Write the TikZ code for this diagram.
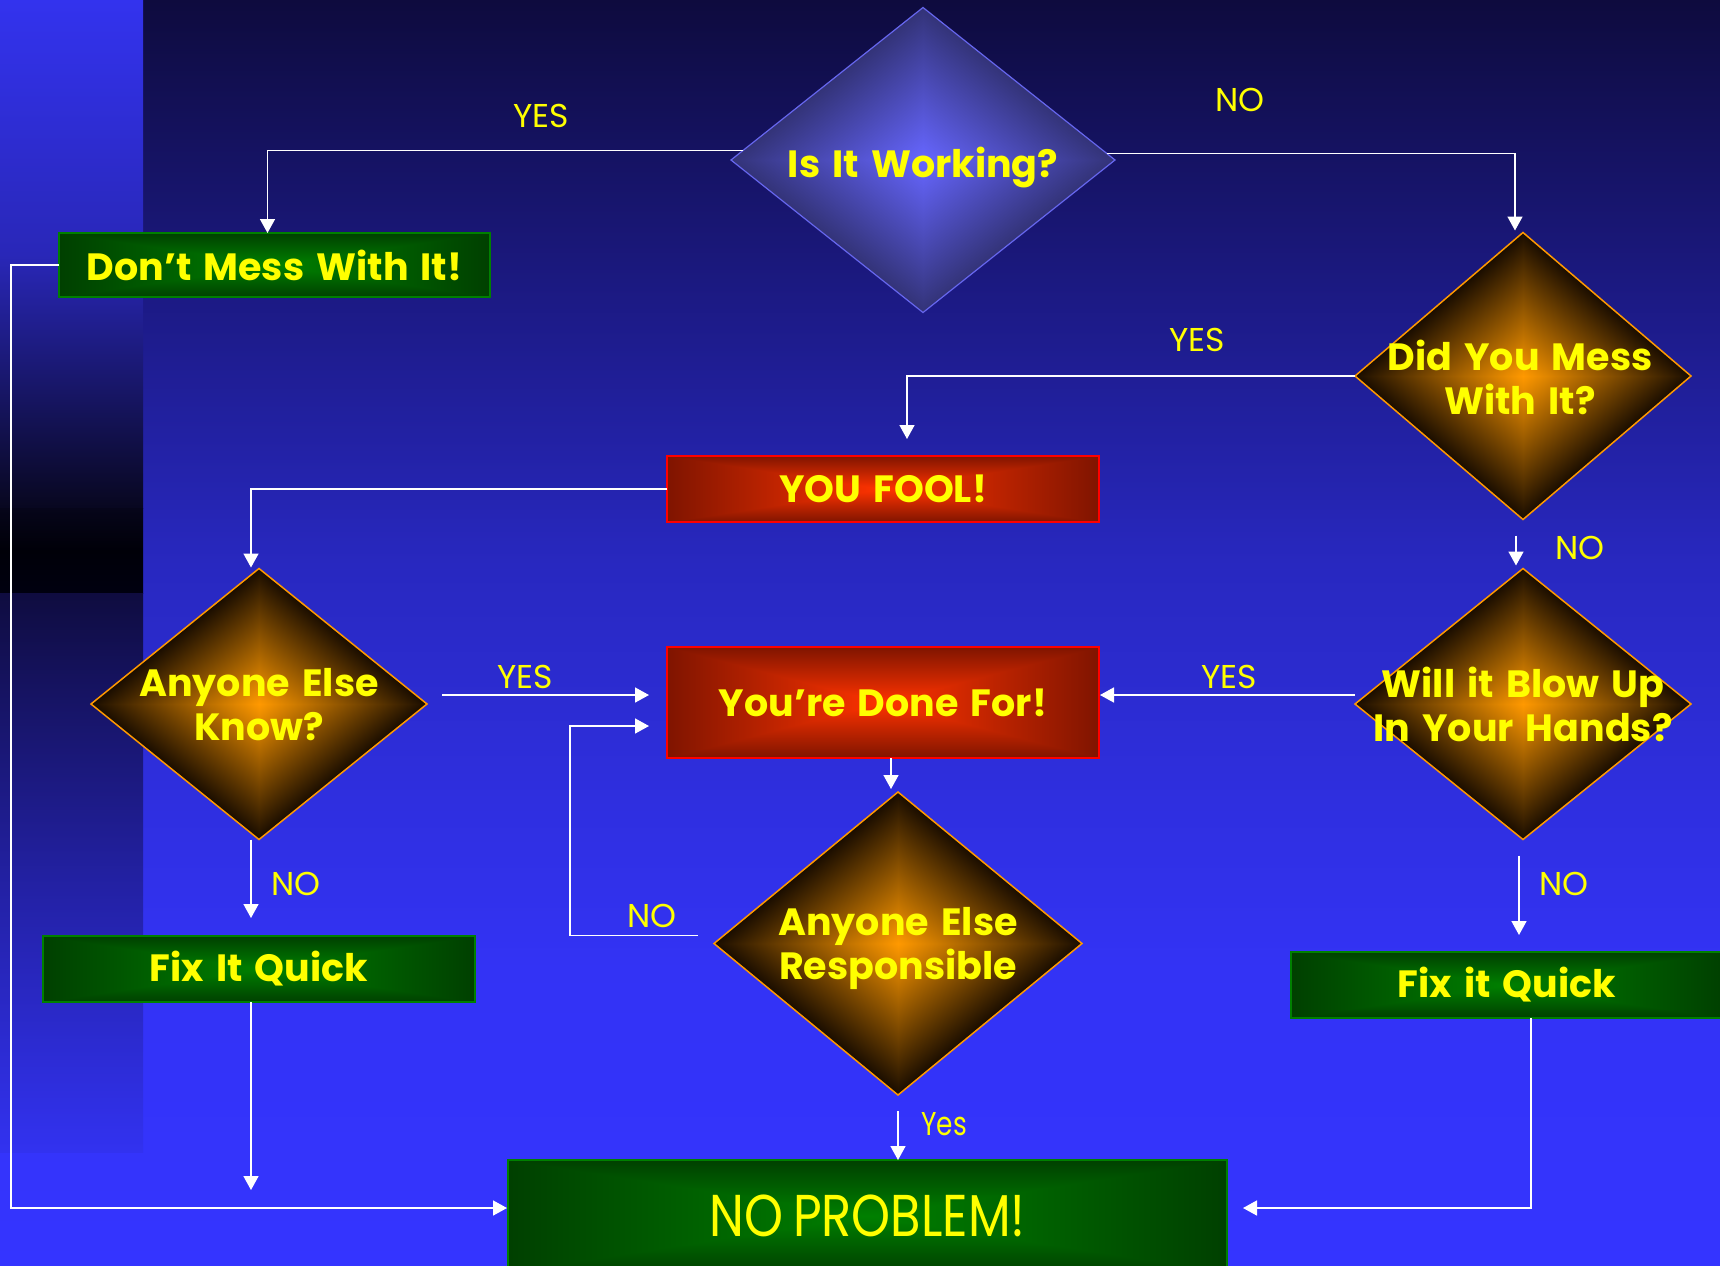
\documentclass[tikz,border=0pt]{standalone}
\usepackage{fontspec}
\setmainfont{Poppins}[WordSpace=1.5]
\usetikzlibrary{shapes.geometric,arrows.meta,calc}

% background colours
\definecolor{bgA}{HTML}{0E0B3E}
\definecolor{bgB}{HTML}{1D1B8A}
\definecolor{bgC}{HTML}{2828C0}
\definecolor{bgD}{HTML}{2F2FE0}
\definecolor{bgE}{HTML}{3333F5}
\definecolor{bgF}{HTML}{3434FF}
\definecolor{stripTop}{HTML}{3333EE}
\definecolor{stripMid}{HTML}{2927B8}
\definecolor{stripLow}{HTML}{08071F}
\definecolor{bandTop}{HTML}{06051A}
\definecolor{bandMid}{HTML}{000008}
\definecolor{bandLow}{HTML}{000010}
\definecolor{lowTop}{HTML}{0F0C40}
\definecolor{lowMid}{HTML}{2220A0}
\definecolor{lowEnd}{HTML}{3232F0}
% node colours
\definecolor{boxgreen}{HTML}{008000}
\definecolor{boxred}{HTML}{FF0000}
\definecolor{askorange}{HTML}{FF9900}
\definecolor{askblueline}{HTML}{6666EE}
\definecolor{labyellow}{HTML}{FFFF00}

% main backdrop: dark navy at the top, bright blue at the bottom
\pgfdeclareverticalshading{bgmain}{100bp}{color(0bp)=(bgF); color(25bp)=(bgF);
  color(36.74bp)=(bgE); color(43.10bp)=(bgD); color(52.67bp)=(bgC);
  color(62.23bp)=(bgB); color(75bp)=(bgA); color(100bp)=(bgA)}

% diamond path gradients (contours follow the diamond outline)
\pgfdeclarefunctionalshading{orangediamond}{\pgfpointorigin}{\pgfpoint{100bp}{100bp}}{}{
  50 sub abs 25 div exch 50 sub abs 25 div add
  dup 1 gt {pop 1} if
  dup dup
  -0.9 mul 1 add
  3 1 roll
  -0.55 mul 0.6 add
  exch
  0 mul
}
\pgfdeclarefunctionalshading{bluediamond}{\pgfpointorigin}{\pgfpoint{100bp}{100bp}}{}{
  50 sub abs 25 div exch 50 sub abs 25 div add
  dup 1 gt {pop 1} if
  dup dup
  -0.2 mul 0.4 add
  3 1 roll
  -0.2 mul 0.4 add
  exch
  -0.53 mul 1 add
}
% rectangle path gradients (contours follow the box outline)
\pgfdeclarefunctionalshading{greenbox}{\pgfpointorigin}{\pgfpoint{100bp}{100bp}}{}{
  50 sub abs 25 div exch 50 sub abs 25 div
  2 copy lt {exch} if pop
  dup 1 gt {pop 1} if
  dup dup
  0 mul
  3 1 roll
  -0.25 mul 0.5 add
  exch
  0 mul
}
\pgfdeclarefunctionalshading{redbox}{\pgfpointorigin}{\pgfpoint{100bp}{100bp}}{}{
  50 sub abs 25 div exch 50 sub abs 25 div
  2 copy lt {exch} if pop
  dup 1 gt {pop 1} if
  dup dup
  -0.5 mul 1 add
  3 1 roll
  -0.12 mul 0.2 add
  exch
  0 mul
}

\newcommand\boldlab{\bfseries\fontsize{19}{22}\selectfont}
\newcommand\anslab{\mdseries\fontsize{16.5}{20}\selectfont}

\tikzset{
  box/.style={rectangle, line width=1pt, inner sep=0pt, outer sep=0pt,
    text=labyellow, font=\boldlab},
  okbox/.style={box, draw=boxgreen, shading=greenbox},
  badbox/.style={box, draw=boxred, shading=redbox},
  ask/.style={diamond, draw=askorange, line width=0.75pt, inner sep=0pt,
    outer sep=0pt, shading=orangediamond},
  askblue/.style={ask, draw=askblueline, line width=0.6pt, shading=bluediamond},
  asktext/.style={text=labyellow, font=\boldlab, align=center, inner sep=0pt},
  ans/.style={text=labyellow, font=\anslab, inner sep=0pt},
  link/.style={draw=white, line width=0.8pt, -{Triangle[length=7pt,width=7.5pt]}},
}

\begin{document}
\begin{tikzpicture}[x=0.5pt, y=-0.5pt]
\useasboundingbox (0,0) rectangle (1720,1265);
\clip (0,0) rectangle (1720,1265);

% backdrop and the left band
\fill[shading=bgmain] (0,0) rectangle (1720,1265);
\fill[top color=stripTop, bottom color=stripLow, middle color=stripMid] (0,0) rectangle (143,508.5);
\fill[top color=bandTop, bottom color=bandLow, middle color=bandMid] (0,508) rectangle (143,593.5);
\fill[top color=lowTop, bottom color=lowEnd, middle color=lowMid] (0,593) rectangle (143,1152);

% decisions
\node[askblue, minimum width=192pt, minimum height=152.5pt] (iw) at (923,160) {};
\node[asktext] (iwT) at (923,167) {Is It Working?};

\node[ask, minimum width=168pt, minimum height=143.5pt] (dy) at (1523,376) {};
\node[asktext] (dyT) at (1520,377) {Did You Mess\\With It?};

\node[ask, minimum width=168pt, minimum height=135.5pt] (ak) at (259,704) {};
\node[asktext] (akT) at (259,705) {Anyone Else\\Know?};

\node[ask, minimum width=168pt, minimum height=135.5pt] (wb) at (1523,704) {};
\node[asktext] (wbT) at (1523,704) {Will it Blow Up\\In Your Hands?};

\node[ask, minimum width=184pt, minimum height=151.5pt] (ar) at (898,943.5) {};
\node[asktext] (arT) at (898,948) {Anyone Else\\Responsible};

% outcomes
\node[okbox, minimum width=215.5pt, minimum height=32pt] (dm) at (274.5,265) {Don't Mess With It!};
\node[badbox, minimum width=216pt, minimum height=33pt] (yf) at (883,489) {YOU FOOL!};
\node[badbox, minimum width=216pt, minimum height=55.5pt] (ydf) at (883,702.5) {You're Done For!};
\node[okbox, minimum width=216pt, minimum height=33pt] (fql) at (259,969) {Fix It Quick};
\node[okbox, minimum width=216pt, minimum height=33pt] (fqr) at (1507,985) {Fix it Quick};
\node[okbox, minimum width=359.5pt, minimum height=56pt,
  font=\mdseries\fontsize{29.5}{34}\selectfont] (np) at (867.5,1216) {\scalebox{0.84}[1]{NO\kern0.2em PROBLEM!}};

% answer labels
\node[ans] (y1) at (541,116) {YES};
\node[ans] (n1) at (1240,100) {NO};
\node[ans] (y2) at (1197,340) {YES};
\node[ans] (n2) at (1580,548) {NO};
\node[ans] (y3) at (525,677) {YES};
\node[ans] (y4) at (1229,677) {YES};
\node[ans] (n3) at (296,884) {NO};
\node[ans] (n4) at (652,916) {NO};
\node[ans] (n5) at (1564,884) {NO};
\node[ans] (y5) at (944,1124) {\scalebox{0.8}[1]{Yes}};

\coordinate (fqlEnd) at (251,1190);

% connectors
\draw[link] (iw.177.5) -| ($(dm.north)+(-7,0)$);
\draw[link] (iw.2.5) -| ($(dy.north)+(-8,-2)$);
\draw[link] (dy.west) -| ($(yf.north)+(24,-17)$);
\draw[link] (yf.west) -| ($(ak.north)+(-8,-1)$);
\draw[link] ($(ak.east)+(15,-9)$) -- ($(ydf.west)+(-18,-7.5)$);
\draw[link] ($(wb.west)+(0,-9)$) -- ($(ydf.east)+(1,-7.5)$);
\draw[link] ($(ydf.south)+(8,0)$) -- ($(ar.north)+(-7,-3)$);
\draw[link] ($(ar.west)+(-16,-8)$) -| ($(ydf.west)+(-97,23.5)$) -- ($(ydf.west)+(-18,23.5)$);
\draw[link] ($(ar.south)+(0,16)$) -- ($(np.north)+(30.5,0)$);
\draw[link] ($(dy.south)+(-7,16)$) -- ($(wb.north)+(-7,-3)$);
\draw[link] ($(wb.south)+(-4,16)$) -- ($(fqr.north)+(12,-17)$);
\draw[link] ($(ak.south)+(-8,0)$) -- ($(fql.north)+(-8,-18)$);
\draw[link] ($(fql.south)+(-8,0)$) -- (fqlEnd);
\draw[link] (dm.west) -| ($(np.west)+(-497,-8)$) -- ($(np.west)+(-1,-8)$);
\draw[link] ($(fqr.south)+(24,0)$) |- ($(np.east)+(16,-8)$);
\end{tikzpicture}
\end{document}
